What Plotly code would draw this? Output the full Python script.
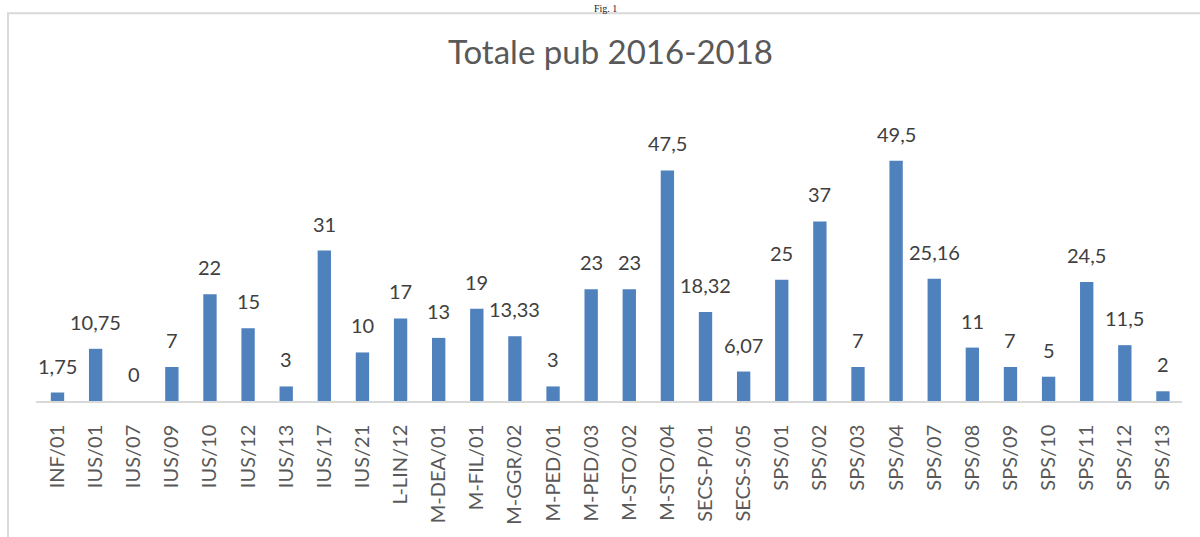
import plotly.graph_objects as go

categories = ["INF/01", "IUS/01", "IUS/07", "IUS/09", "IUS/10", "IUS/12", "IUS/13", "IUS/17",
              "IUS/21", "L-LIN/12", "M-DEA/01", "M-FIL/01", "M-GGR/02", "M-PED/01", "M-PED/03",
              "M-STO/02", "M-STO/04", "SECS-P/01", "SECS-S/05", "SPS/01", "SPS/02", "SPS/03",
              "SPS/04", "SPS/07", "SPS/08", "SPS/09", "SPS/10", "SPS/11", "SPS/12", "SPS/13"]
values = [1.75, 10.75, 0, 7, 22, 15, 3, 31, 10, 17, 13, 19, 13.33, 3, 23, 23, 47.5, 18.32,
          6.07, 25, 37, 7, 49.5, 25.16, 11, 7, 5, 24.5, 11.5, 2]
labels = [f"{v:g}".replace(".", ",") for v in values]

W, H = 1200, 537
L, R, T, B = 36, 18, 134, 133
pw, ph = W - L - R, H - T - B
FONT = "Lato, Open Sans, sans-serif"

def px(x):
    return (x - L) / pw

def py(y):
    return (H - B - y) / ph

fig = go.Figure(go.Bar(
    x=categories, y=values,
    marker=dict(color="#4f81bd", line=dict(width=0)),
    hovertemplate="%{x}: %{y}<extra></extra>",
))

annotations = [
    dict(x=c, y=v, text=t, xref="x", yref="y", xanchor="center", yanchor="bottom",
         yshift=13, showarrow=False, font=dict(family=FONT, size=20, color="#404040"))
    for c, v, t in zip(categories, values, labels)
]
annotations += [
    dict(text="Totale pub 2016-2018", xref="paper", yref="paper",
         x=px(610), y=py(50), xanchor="center", yanchor="middle", showarrow=False,
         font=dict(family=FONT, size=33, color="#595959")),
    dict(text="Fig. 1", xref="paper", yref="paper",
         x=px(605), y=py(0), xanchor="center", yanchor="top", showarrow=False,
         font=dict(family="Liberation Serif, serif", size=10, color="#222222")),
]

fig.update_layout(
    width=W, height=H,
    margin=dict(l=L, r=R, t=T, b=B),
    paper_bgcolor="white", plot_bgcolor="white",
    bargap=0.65,
    showlegend=False,
    font=dict(family=FONT, color="#595959"),
    xaxis=dict(showline=True, linecolor="#d9d9d9", linewidth=1.5, ticks="",
               tickangle=-90, tickfont=dict(size=20, color="#595959"),
               ticklabelstandoff=14, showgrid=False, fixedrange=True),
    yaxis=dict(range=[0, 55], visible=False, showgrid=False, fixedrange=True),
    shapes=[dict(type="rect", xref="paper", yref="paper",
                 x0=px(8), x1=px(1215), y0=py(560), y1=py(12),
                 line=dict(color="#d9d9d9", width=2), fillcolor="rgba(0,0,0,0)", layer="below")],
    annotations=annotations,
)

fig.write_html("out.html", config={"displayModeBar": False},
               post_script="document.body.style.margin='0';document.body.style.overflow='hidden';")
